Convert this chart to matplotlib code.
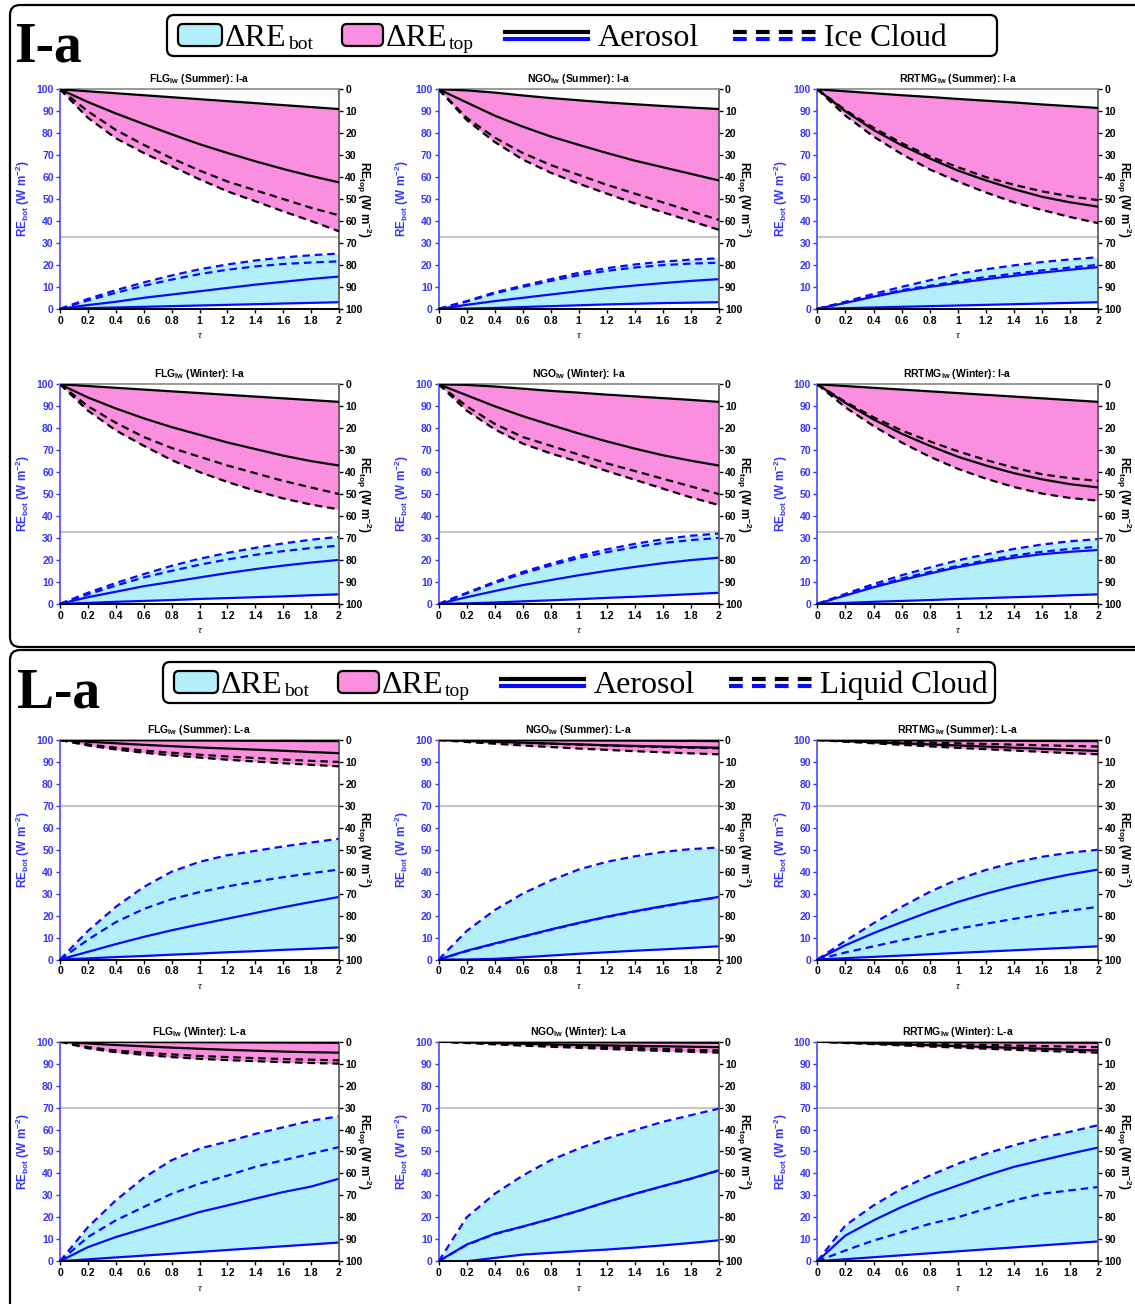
import numpy as np
import matplotlib
matplotlib.use('Agg')
import matplotlib.pyplot as plt
from matplotlib.patches import FancyBboxPatch

plt.rcParams['font.family'] = ['Liberation Sans', 'DejaVu Sans']
plt.rcParams['font.weight'] = 'bold'
plt.rcParams['mathtext.fontset'] = 'custom'
plt.rcParams['mathtext.rm'] = 'Liberation Sans:bold'
plt.rcParams['mathtext.bf'] = 'Liberation Sans:bold'
plt.rcParams['mathtext.it'] = 'Liberation Sans:italic:bold'

# ---------------- data ----------------
TAU = [0.0, 0.2, 0.4, 0.6, 0.8, 1.0, 1.2, 1.4, 1.6, 1.8, 2.0]
TAU_TICKS = [0, 0.2, 0.4, 0.6, 0.8, 1.0, 1.2, 1.4, 1.6, 1.8, 2.0]
TAU_TICK_LABELS = ['0', '0.2', '0.4', '0.6', '0.8', '1', '1.2', '1.4', '1.6', '1.8', '2']
RE_TICKS = [0, 10, 20, 30, 40, 50, 60, 70, 80, 90, 100]
MODELS = ['FLG', 'NGO', 'RRTMG']
SEASONS = ['Summer', 'Winter']
CASES = ['I-a', 'L-a']
CASE_LEGEND_CLOUD = ['Ice Cloud', 'Liquid Cloud']
SPLIT_LINE = [32.5, 70]

# each BOT/TOP list: [aerosol low, aerosol high, cloud a, cloud b]
# BOT values on RE_bot axis, TOP values on RE_top axis (W m-2)
FLG_IA_SU_BOT = [[0, 0.3, 0.6, 0.9, 1.2, 1.5, 1.8, 2.1, 2.4, 2.7, 3.0],
                 [0, 1.7, 3.2, 5, 6.5, 8, 9.5, 11, 12.3, 13.6, 14.7],
                 [0, 4.5, 8.5, 12, 15.2, 18, 20.2, 22, 23.4, 24.4, 25.2],
                 [0, 3.8, 7.3, 10.5, 13.3, 15.8, 17.8, 19.3, 20.4, 21.1, 21.6]]
FLG_IA_SU_TOP = [[0, 0.9, 1.8, 2.7, 3.6, 4.5, 5.4, 6.3, 7.2, 8.1, 9.0],
                 [0, 5.8, 11, 15.8, 20.5, 25, 29, 32.8, 36.3, 39.5, 42.4],
                 [0, 10, 18.5, 25.3, 31.4, 37, 42, 46, 50, 54, 57.4],
                 [0, 13, 22.3, 29, 35, 41, 46.5, 51, 55.6, 60, 64.7]]

NGO_IA_SU_BOT = [[0, 0.1, 0.4, 0.8, 1.2, 1.6, 2, 2.3, 2.6, 2.8, 3.0],
                 [0, 1.8, 3.5, 5, 6.5, 8, 9.4, 10.6, 11.7, 12.7, 13.5],
                 [0, 3.5, 7.5, 10.5, 13.5, 16.4, 18.5, 20.2, 21.5, 22.4, 23],
                 [0, 3.3, 7, 10, 12.7, 15.3, 17.3, 18.8, 19.9, 20.6, 21]]
NGO_IA_SU_TOP = [[0, 0.5, 1.5, 2.8, 4, 5, 6, 6.8, 7.6, 8.3, 9],
                 [0, 6, 12, 17, 21.5, 25.3, 29, 32.5, 35.5, 38.5, 41.5],
                 [0, 13, 22, 29, 34.5, 39, 43.5, 47.5, 51.5, 55.5, 59.5],
                 [0, 14, 24, 32, 38, 43, 47.5, 52, 56, 60, 64]]

RRTMG_IA_SU_BOT = [[0, 0.3, 0.6, 0.9, 1.2, 1.5, 1.8, 2.1, 2.4, 2.7, 3.0],
                   [0, 2.7, 5.5, 8, 10, 11.8, 13.5, 15, 16.5, 17.8, 19],
                   [0, 3.2, 6.8, 10, 13, 15.9, 18, 19.8, 21.3, 22.5, 23.5],
                   [0, 2.8, 5.8, 8.5, 10.5, 12.5, 14.5, 16, 17.5, 18.8, 20]]
RRTMG_IA_SU_TOP = [[0, 0.9, 1.8, 2.7, 3.5, 4.4, 5.2, 6, 6.9, 7.7, 8.5],
                   [0, 10, 18.5, 25.5, 31.5, 37, 41.5, 45.5, 49, 51.5, 53.5],
                   [0, 9.5, 17.5, 24.5, 30.5, 35.5, 40, 43.5, 46.5, 48.8, 50.5],
                   [0, 12, 21.5, 29.5, 36.5, 42, 47, 51.5, 55, 58.2, 61]]

FLG_IA_WI_BOT = [[0, 0.4, 0.9, 1.3, 1.7, 2.2, 2.6, 3, 3.4, 3.9, 4.3],
                 [0, 3, 5.5, 8, 10, 12, 14, 15.8, 17.4, 18.8, 20],
                 [0, 5, 9.5, 13.5, 17.3, 20.5, 23.2, 25.5, 27.5, 29.2, 30.5],
                 [0, 4.3, 8.3, 12, 15, 17.8, 20.2, 22.3, 24, 25.4, 26.5]]
FLG_IA_WI_TOP = [[0, 0.8, 1.6, 2.4, 3.2, 4, 4.8, 5.6, 6.4, 7.2, 8],
                 [0, 6, 11, 15.5, 19.5, 23, 26.5, 29.5, 32.5, 35, 37],
                 [0, 10, 17.5, 24, 29, 33, 37, 40.5, 44, 47, 50],
                 [0, 12, 21, 28, 34.5, 40, 44.5, 48.5, 52, 54.8, 57]]

NGO_IA_WI_BOT = [[0, 0.2, 0.6, 1.1, 1.6, 2.1, 2.7, 3.2, 3.8, 4.4, 5],
                 [0, 3, 5.8, 8.5, 10.8, 13, 15, 16.8, 18.5, 19.9, 21],
                 [0, 5, 10, 14.5, 18.3, 21.8, 24.8, 27.3, 29.4, 31, 32],
                 [0, 4.7, 9.5, 13.8, 17.5, 20.8, 23.5, 25.8, 27.7, 29, 30]]
NGO_IA_WI_TOP = [[0, 0.3, 1, 2, 3, 3.8, 4.7, 5.5, 6.3, 7.1, 8],
                 [0, 5, 10, 14.5, 18.5, 22.4, 26, 29.3, 32.3, 34.8, 37],
                 [0, 10, 18, 24, 28, 32, 36, 39.5, 43, 46.5, 50],
                 [0, 12, 20.5, 27, 31.5, 35.3, 39.5, 43.5, 47.5, 51.5, 55]]

RRTMG_IA_WI_BOT = [[0, 0.4, 0.9, 1.3, 1.7, 2.2, 2.6, 3, 3.4, 3.9, 4.3],
                   [0, 3.8, 7.5, 10.8, 13.8, 16.7, 19, 21, 22.6, 23.7, 24.5],
                   [0, 4.5, 9, 13, 16.5, 19.8, 22.5, 25, 27, 28.5, 29.5],
                   [0, 4, 8, 11.5, 14.5, 17.3, 19.8, 22, 23.7, 25, 26]]
RRTMG_IA_WI_TOP = [[0, 0.8, 1.6, 2.4, 3.2, 4, 4.8, 5.6, 6.4, 7.2, 8],
                   [0, 8.5, 16, 22.5, 28, 33, 37, 40.5, 43.3, 45.5, 47],
                   [0, 8, 15, 21, 26, 30.5, 34.5, 38, 41, 42.8, 44],
                   [0, 10.5, 19, 26.5, 33, 38.5, 43, 46.8, 49.8, 51.8, 53]]

FLG_LA_SU_BOT = [[0, 0.5, 1.1, 1.6, 2.2, 2.7, 3.3, 3.8, 4.4, 4.9, 5.5],
                 [0, 3.5, 7, 10.3, 13.3, 16, 18.6, 21.2, 23.8, 26.2, 28.5],
                 [0, 13, 24, 33, 40, 44.5, 47.5, 49.5, 51.5, 53.3, 55],
                 [0, 9, 17, 23, 27.5, 30.7, 33.3, 35.5, 37.5, 39.3, 41]]
FLG_LA_SU_TOP = [[0, 0.05, 0.1, 0.15, 0.2, 0.25, 0.3, 0.35, 0.4, 0.45, 0.5],
                 [0, 0.8, 1.5, 2.2, 2.8, 3.4, 3.9, 4.4, 4.9, 5.5, 6],
                 [0, 2, 3.5, 4.8, 5.8, 6.7, 7.5, 8.2, 8.9, 9.5, 10],
                 [0, 2.5, 4.3, 5.8, 7, 8, 9, 9.8, 10.6, 11.3, 12]]

NGO_LA_SU_BOT = [[0, 0, 0.3, 1, 1.8, 2.6, 3.3, 4, 4.6, 5.3, 6],
                 [0, 4, 7.3, 10.5, 13.7, 16.7, 19.5, 22, 24.3, 26.5, 28.5],
                 [0, 13, 22.5, 30, 36, 41, 44.5, 47, 49, 50.3, 51],
                 [0, 3.8, 7.1, 10.3, 13.5, 16.5, 19.3, 21.8, 24.1, 26.3, 28.3]]
NGO_LA_SU_TOP = [[0, 0, 0.05, 0.1, 0.15, 0.2, 0.25, 0.3, 0.35, 0.4, 0.5],
                 [0, 0.4, 0.8, 1.2, 1.6, 2, 2.4, 2.7, 3, 3.3, 3.5],
                 [0, 0.4, 0.9, 1.3, 1.7, 2.1, 2.5, 2.9, 3.2, 3.5, 3.8],
                 [0, 0.9, 1.7, 2.5, 3.2, 3.9, 4.5, 5.1, 5.6, 6.1, 6.5]]

RRTMG_LA_SU_BOT = [[0, 0.6, 1.2, 1.8, 2.4, 3, 3.6, 4.2, 4.8, 5.4, 6],
                   [0, 6.5, 12, 17, 21.8, 26.2, 30, 33.3, 36.2, 38.8, 41],
                   [0, 8.5, 16.5, 24, 30.8, 36.5, 40.8, 44.2, 46.8, 48.7, 50],
                   [0, 3.2, 6, 8.8, 11.5, 14, 16.3, 18.5, 20.5, 22.3, 24]]
RRTMG_LA_SU_TOP = [[0, 0.05, 0.1, 0.15, 0.2, 0.25, 0.3, 0.35, 0.4, 0.45, 0.5],
                   [0, 0.5, 1, 1.5, 2, 2.5, 3, 3.5, 4, 4.5, 5],
                   [0, 0.3, 0.6, 0.9, 1.2, 1.5, 1.8, 2.1, 2.4, 2.7, 3],
                   [0, 0.8, 1.5, 2.2, 2.9, 3.6, 4.2, 4.8, 5.4, 6, 6.5]]

FLG_LA_WI_BOT = [[0, 0.85, 1.7, 2.55, 3.4, 4.25, 5.1, 5.95, 6.8, 7.65, 8.5],
                 [0, 6.4, 11, 14.8, 18.6, 22.4, 25.4, 28.5, 31.5, 34, 37.6],
                 [0, 15.5, 27.7, 38, 46, 51.3, 54.5, 58, 61, 64, 66],
                 [0, 11, 18.6, 24.7, 30.7, 35.3, 39, 43, 46, 49, 52]]
FLG_LA_WI_TOP = [[0, 0.05, 0.1, 0.15, 0.2, 0.25, 0.3, 0.35, 0.4, 0.45, 0.5],
                 [0, 0.8, 1.5, 2.1, 2.7, 3.2, 3.7, 4.1, 4.5, 4.8, 5],
                 [0, 2.5, 4, 5, 5.8, 6.5, 7, 7.5, 7.9, 8.2, 8.5],
                 [0, 3, 4.8, 6, 7, 7.8, 8.4, 8.9, 9.3, 9.7, 10]]

NGO_LA_WI_BOT = [[0, 0, 1.5, 3, 3.8, 4.6, 5.3, 6.2, 7.2, 8.3, 9.5],
                 [0, 7.6, 12.5, 15.8, 19.3, 23, 27, 30.7, 34.2, 37.6, 41.4],
                 [0, 20, 30.7, 39, 46, 51.3, 55.9, 59.7, 63.5, 66.5, 69.5],
                 [0, 7.4, 12.3, 15.7, 19.2, 22.9, 26.9, 30.6, 34.1, 37.5, 41.3]]
NGO_LA_WI_TOP = [[0, 0.05, 0.1, 0.15, 0.2, 0.25, 0.3, 0.35, 0.4, 0.45, 0.5],
                 [0, 0.3, 0.6, 0.9, 1.2, 1.5, 1.7, 1.9, 2.1, 2.3, 2.5],
                 [0, 0.4, 0.8, 1.3, 1.7, 2.1, 2.5, 2.9, 3.3, 3.7, 4],
                 [0, 0.6, 1.2, 1.8, 2.3, 2.8, 3.3, 3.8, 4.2, 4.6, 5]]

RRTMG_LA_WI_BOT = [[0, 0.9, 1.8, 2.7, 3.6, 4.5, 5.4, 6.3, 7.2, 8.1, 9],
                   [0, 11.7, 18.6, 24.7, 30, 34.5, 39, 43, 46, 49, 51.8],
                   [0, 16.3, 25.4, 33, 39, 44.4, 49, 52.8, 56.3, 59, 62],
                   [0, 4.9, 9.4, 13.2, 17, 20, 23.9, 27.7, 30.7, 32.3, 33.8]]
RRTMG_LA_WI_TOP = [[0, 0.05, 0.1, 0.15, 0.2, 0.25, 0.3, 0.35, 0.4, 0.45, 0.5],
                   [0, 0.4, 0.8, 1.2, 1.6, 2, 2.4, 2.8, 3.2, 3.6, 4],
                   [0, 0.25, 0.5, 0.75, 1, 1.25, 1.5, 1.75, 2, 2.25, 2.5],
                   [0, 0.6, 1.1, 1.7, 2.2, 2.7, 3.2, 3.7, 4.2, 4.6, 5]]

GRID = [  # rows: (case index, season index, [(model, BOT, TOP), ...])
    (0, 0, [('FLG', FLG_IA_SU_BOT, FLG_IA_SU_TOP), ('NGO', NGO_IA_SU_BOT, NGO_IA_SU_TOP),
            ('RRTMG', RRTMG_IA_SU_BOT, RRTMG_IA_SU_TOP)]),
    (0, 1, [('FLG', FLG_IA_WI_BOT, FLG_IA_WI_TOP), ('NGO', NGO_IA_WI_BOT, NGO_IA_WI_TOP),
            ('RRTMG', RRTMG_IA_WI_BOT, RRTMG_IA_WI_TOP)]),
    (1, 0, [('FLG', FLG_LA_SU_BOT, FLG_LA_SU_TOP), ('NGO', NGO_LA_SU_BOT, NGO_LA_SU_TOP),
            ('RRTMG', RRTMG_LA_SU_BOT, RRTMG_LA_SU_TOP)]),
    (1, 1, [('FLG', FLG_LA_WI_BOT, FLG_LA_WI_TOP), ('NGO', NGO_LA_WI_BOT, NGO_LA_WI_TOP),
            ('RRTMG', RRTMG_LA_WI_BOT, RRTMG_LA_WI_TOP)]),
]

# ---------------- style ----------------
CYAN = '#b3effa'
PINK = '#fa8fdf'
BLUE = '#0a0aff'
BLUE_TXT = '#3535ff'
W, H = 1135, 1304
COL_LEFT = [60, 438.7, 817.3]
COL_W = [279, 280, 281]
ROW_TOP = [89.3, 384.3, 740, 1041.7]
AX_H = 219.5

fig = plt.figure(figsize=(W / 100, H / 100), dpi=100)


def px_rect(x0, y0, w, h):
    return [x0 / W, 1 - (y0 + h) / H, w / W, h / H]


def draw_sub(rect, title, bot, top, split):
    ax = fig.add_axes(rect)
    ax2 = ax.twinx()
    ax.set_xlim(0, 2)
    ax.set_ylim(0, 100)
    ax2.set_ylim(100, 0)
    bot = np.array(bot, dtype=float)
    top = np.array(top, dtype=float)
    ax.fill_between(TAU, bot.min(axis=0), bot.max(axis=0), color=CYAN, lw=0, zorder=1)
    ax2.fill_between(TAU, top.min(axis=0), top.max(axis=0), color=PINK, lw=0, zorder=1)
    ax.axhline(split, color='#c8c8c8', lw=1.6, zorder=1.5)
    for i, c in enumerate(bot):
        if i < 2:
            ax.plot(TAU, c, color=BLUE, lw=1.6, zorder=3)
        else:
            ax.plot(TAU, c, color=BLUE, lw=1.6, dashes=(3.4, 2.2), zorder=3)
    for i, c in enumerate(top):
        if i < 2:
            ax2.plot(TAU, c, color='black', lw=1.6, zorder=3)
        else:
            ax2.plot(TAU, c, color='black', lw=1.6, dashes=(3.4, 2.2), zorder=3)

    ax.set_xticks(TAU_TICKS)
    ax.set_xticklabels(TAU_TICK_LABELS, fontsize=7.5, fontweight='bold')
    ax.set_yticks(RE_TICKS)
    ax.set_yticklabels([str(v) for v in RE_TICKS], fontsize=7.5, fontweight='bold')
    ax2.set_yticks(RE_TICKS)
    ax2.set_yticklabels([str(v) for v in RE_TICKS], fontsize=7.5, fontweight='bold')
    ax.tick_params(axis='y', colors=BLUE_TXT, direction='out', length=3, width=1, pad=1.5)
    ax.tick_params(axis='x', colors='black', direction='out', length=3, width=1, pad=2)
    ax2.tick_params(axis='y', colors='black', direction='out', length=3, width=1, pad=1.5)
    for a in (ax, ax2):
        a.spines['left'].set_color('#4a4aff')
        a.spines['right'].set_color('#555555')
        a.spines['top'].set_color('#999999')
        a.spines['bottom'].set_color('black')
        for s in a.spines.values():
            s.set_linewidth(1.2)
    ax.spines['right'].set_visible(False)
    ax2.spines['left'].set_visible(False)

    ax.set_title(title, fontsize=7.5, fontweight='bold', pad=5)
    ax.set_ylabel(r'RE$_{\mathbf{bot}}$ (W m$^{\mathbf{-2}}$)', color=BLUE_TXT,
                  fontsize=8.5, fontweight='bold', labelpad=3)
    ax2.set_ylabel(r'RE$_{\mathbf{top}}$ (W m$^{\mathbf{-2}}$)', color='black',
                   fontsize=8.5, fontweight='bold', rotation=270, va='bottom')
    ax2.yaxis.set_label_coords(1.055, 0.5)
    ax.set_xlabel('τ', fontsize=8, fontstyle='italic', fontweight='normal',
                  family='Liberation Serif', labelpad=4)
    return ax


for r, (ci, si, models) in enumerate(GRID):
    for c, (model, bot, top) in enumerate(models):
        title = model + r'$_{\mathbf{lw}}$ (' + SEASONS[si] + '): ' + CASES[ci]
        draw_sub(px_rect(COL_LEFT[c], ROW_TOP[r], COL_W[c], AX_H), title, bot, top, SPLIT_LINE[ci])

# ---------------- overlay: frames, panel labels, legends ----------------
ov = fig.add_axes([0, 0, 1, 1], zorder=5)
ov.set_xlim(0, W)
ov.set_ylim(H, 0)
ov.axis('off')
renderer = fig.canvas.get_renderer()

ov.add_patch(FancyBboxPatch((10, 5), 1160, 642, boxstyle='round,pad=0,rounding_size=10',
                            fill=False, ec='black', lw=1.6))
ov.add_patch(FancyBboxPatch((10, 650), 1160, 700, boxstyle='round,pad=0,rounding_size=10',
                            fill=False, ec='black', lw=1.6))

SERIF = 'Liberation Serif'


def main_with_sub(x, yb, main, sub):
    t = ov.text(x, yb, main, family=SERIF, fontweight='normal', fontsize=23, va='baseline')
    bb = t.get_window_extent(renderer=renderer)
    ov.text(x + bb.width + 1, yb + 3, sub, family=SERIF, fontweight='normal', fontsize=14,
            va='baseline')


LEG = [  # (top of box y, box x0, box x1, x shift)
    (15, 167, 997, 0),
    (662, 163, 995, -4),
]
for k, (y0, bx0, bx1, dx) in enumerate(LEG):
    ov.text(14 + (3 if k else 0), y0 + 46, CASES[k], family=SERIF, fontweight='bold',
            fontsize=40, ha='left', va='baseline')
    ov.add_patch(FancyBboxPatch((bx0, y0), bx1 - bx0, 41, boxstyle='round,pad=0,rounding_size=7',
                                fill=False, ec='black', lw=1.6))
    yb = y0 + 31  # text baseline
    ov.add_patch(FancyBboxPatch((178 + dx, y0 + 9), 44, 22, boxstyle='round,pad=0,rounding_size=5',
                                fc=CYAN, ec='black', lw=1.6))
    main_with_sub(225 + dx, yb, 'ΔRE', 'bot')
    ov.add_patch(FancyBboxPatch((342 + dx, y0 + 9), 41, 22, boxstyle='round,pad=0,rounding_size=5',
                                fc=PINK, ec='black', lw=1.6))
    main_with_sub(386 + dx, yb, 'ΔRE', 'top')
    ov.plot([505 + dx, 588 + dx], [y0 + 17, y0 + 17], color='black', lw=3)
    ov.plot([505 + dx, 588 + dx], [y0 + 24, y0 + 24], color=BLUE, lw=3)
    ov.text(598 + dx, yb, 'Aerosol', family=SERIF, fontweight='normal', fontsize=23, va='baseline')
    ov.plot([733 + dx, 818 + dx], [y0 + 17, y0 + 17], color='black', lw=3, dashes=(3.3, 2.2))
    ov.plot([733 + dx, 818 + dx], [y0 + 24, y0 + 24], color=BLUE, lw=3, dashes=(3.3, 2.2))
    ov.text(824 + dx, yb, CASE_LEGEND_CLOUD[k], family=SERIF, fontweight='normal', fontsize=22.5,
            va='baseline')

fig.savefig('out.png', dpi=100)
